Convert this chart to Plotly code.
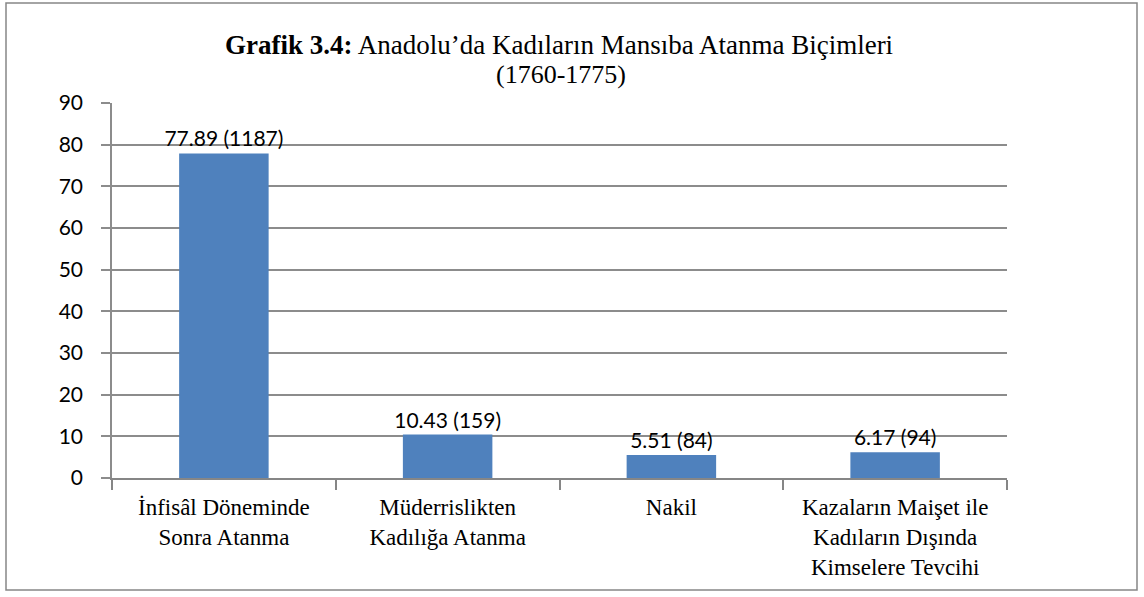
import plotly.graph_objects as go

categories = ["İnfisâl Döneminde<br>Sonra Atanma",
              "Müderrislikten<br>Kadılığa Atanma",
              "Nakil",
              "Kazaların Maişet ile<br>Kadıların Dışında<br>Kimselere Tevcihi"]
percents = [77.89, 10.43, 5.51, 6.17]
counts = [1187, 159, 84, 94]
yticks = [0, 10, 20, 30, 40, 50, 60, 70, 80, 90]

W, H = 1144, 597
L, R, T, B = 112, 137, 103, 119
pw, ph = W - L - R, H - T - B

def px_x(x):
    return (x - L) / pw

def px_y(y):
    return (H - B - y) / ph

serif = "Liberation Serif, Times New Roman, serif"
sans = "Lato, Noto Sans, sans-serif"

labels = [f"{p:.2f} ({c})" for p, c in zip(percents, counts)]

fig = go.Figure(go.Bar(
    x=categories, y=percents,
    marker=dict(color="#4F81BD", line=dict(width=0)),
    text=labels, textposition="outside", cliponaxis=False,
    constraintext="none",
    textfont=dict(family=sans, size=21, color="black"),
    width=0.4,
))

fig.update_layout(
    width=W, height=H,
    margin=dict(l=L, r=R, t=T, b=B, autoexpand=False),
    paper_bgcolor="white", plot_bgcolor="white",
    showlegend=False,
    xaxis=dict(
        type="category",
        showline=True, linecolor="#868686", linewidth=1.5,
        ticks="outside", tickson="boundaries", ticklen=10, tickcolor="#868686", tickwidth=1.5,
        tickfont=dict(family=serif, size=23, color="black"),
        ticklabelstandoff=8,
        showgrid=False,
    ),
    yaxis=dict(
        range=[0, 90], tickvals=yticks,
        showgrid=True, gridcolor="#8c8c8c", gridwidth=1.5,
        showline=True, linecolor="#8c8c8c", linewidth=1.5,
        ticks="outside", ticklen=9, tickcolor="#8c8c8c", tickwidth=1.5,
        tickfont=dict(family=sans, size=21, color="black"),
        ticklabelstandoff=14,
        zeroline=False,
    ),
    bargap=0.6,
)

fig.add_annotation(text="<b>Grafik 3.4:</b> Anadolu’da Kadıların Mansıba Atanma Biçimleri",
                   xref="paper", yref="paper", x=px_x(559), y=px_y(45),
                   xanchor="center", yanchor="middle", showarrow=False,
                   font=dict(family=serif, size=27, color="black"))
fig.add_annotation(text="(1760-1775)",
                   xref="paper", yref="paper", x=px_x(561), y=px_y(74),
                   xanchor="center", yanchor="middle", showarrow=False,
                   font=dict(family=serif, size=26, color="black"))

fig.add_shape(type="rect", xref="paper", yref="paper",
              x0=px_x(6), x1=px_x(1137), y0=px_y(590), y1=px_y(3),
              line=dict(color="#868686", width=1.5), fillcolor="rgba(0,0,0,0)", layer="below")

fig.write_html("out.html", post_script="document.body.style.margin='0';",
               config={"displayModeBar": False})
